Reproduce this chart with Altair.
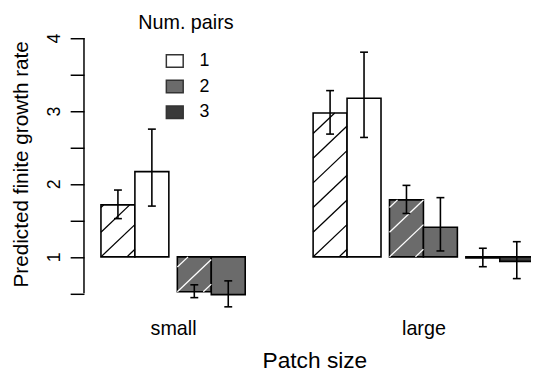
import altair as alt
import pandas as pd
import numpy as np

# ---------------- data ----------------
patch = ["small", "small", "small", "small",
         "large", "large", "large", "large", "large", "large"]
pairs = ["1", "1", "2", "2", "1", "1", "2", "2", "3", "3"]
hatched = [True, False, True, False, True, False, True, False, True, False]
growth = [1.713, 2.169, 0.522, 0.482, 2.972, 3.175, 1.781, 1.406, 0.986, 0.938]
lower = [1.524, 1.696, 0.441, 0.315, 2.683, 2.637, 1.595, 1.081, 0.865, 0.702]
upper = [1.916, 2.751, 0.617, 0.671, 3.279, 3.806, 1.980, 1.812, 1.118, 1.208]

group_labels = ["small", "large"]
pair_levels = ["1", "2", "3"]
pair_colors = ["#ffffff", "#6b6b6b", "#3a3a3a"]
hatch_colors = {"1": "black", "2": "white", "3": "white"}
y_ticks = [0.5, 1, 1.5, 2, 2.5, 3, 3.5, 4]
BASE = 1.0

# ---------------- layout constants ----------------
W, H = 453, 292
KX = 34.4                      # px per x unit (one bar)
XMIN = -0.5
XMAX = XMIN + W / KX
YMIN, YMAX = 0.25, 4.2
KY = H / (YMAX - YMIN)
PAIR_GAP, GROUP_GAP = 0.25, 2.0
CAP = 4.0                      # half-width of error-bar caps, px
SLOPE, SPACING = 0.95, 25.0    # hatch line slope (px/px) and vertical spacing (px)
FONT = "Liberation Sans"

# ---------------- derived tables ----------------
rows = []
centers = {}
start = 0.0
for g in group_labels:
    idx = [i for i, p in enumerate(patch) if p == g]
    gp = sorted(set(pairs[i] for i in idx), key=pair_levels.index)
    for i in idx:
        k = gp.index(pairs[i])
        left = start + k * (2 + PAIR_GAP) + (0 if hatched[i] else 1)
        rows.append(dict(patch=g, pair=pairs[i], hatched=hatched[i],
                         value=growth[i], lo=lower[i], hi=upper[i],
                         x0=left, x1=left + 1, xc=left + 0.5, base=BASE,
                         cl=left + 0.5 - CAP / KX, cr=left + 0.5 + CAP / KX))
    width = len(gp) * 2 + (len(gp) - 1) * PAIR_GAP
    centers[g] = start + width / 2
    start += width + GROUP_GAP
bars = pd.DataFrame(rows)

# hatch segments, clipped to each hatched bar
segs = []
for r in rows:
    if not r["hatched"]:
        continue
    yb, yt = min(BASE, r["value"]), max(BASE, r["value"])
    w = (r["x1"] - r["x0"]) * KX
    h = (yt - yb) * KY
    if h < 2:
        continue
    nmin = -int(np.ceil(SLOPE * w / SPACING))
    nmax = int(np.ceil(h / SPACING))
    for n in range(nmin, nmax + 1):
        c = n * SPACING
        da = max(0.0, -c / SLOPE)
        db = min(w, (h - c) / SLOPE)
        if db - da > 0.5:
            segs.append(dict(xa=r["x0"] + da / KX, ya=yb + (SLOPE * da + c) / KY,
                             xb=r["x0"] + db / KX, yb=yb + (SLOPE * db + c) / KY,
                             hcol=hatch_colors[r["pair"]]))
hatch = pd.DataFrame(segs)

caps = pd.concat([bars[["cl", "cr", "lo"]].rename(columns={"lo": "yv"}),
                  bars[["cl", "cr", "hi"]].rename(columns={"hi": "yv"})])

# ---------------- scales & axes ----------------
xscale = alt.Scale(domain=[XMIN, XMAX], nice=False, zero=False)
yscale = alt.Scale(domain=[YMIN, YMAX], nice=False, zero=False)

label_expr = " : ".join(
    [f"abs(datum.value - {centers[g]}) < 0.01 ? '{g}'" for g in group_labels]) + " : ''"

xaxis = alt.Axis(values=[centers[g] for g in group_labels], labelExpr=label_expr,
                 domain=False, ticks=False, grid=False,
                 labelFontSize=20, labelColor="black", labelFont=FONT,
                 labelBaseline="top", labelPadding=7,
                 title="Patch size", titleFontSize=23, titleFontWeight="normal",
                 titleColor="black", titleFont=FONT,
                 titleX=233.5, titleY=56.5, titleBaseline="alphabetic",
                 titleAlign="center")

yaxis = alt.Axis(values=y_ticks,
                 labelExpr="datum.value % 1 == 0 ? format(datum.value, 'd') : ''",
                 domain=False, grid=False, tickSize=14, tickWidth=1.5, tickColor="black",
                 labelAngle=270, labelAlign="center", labelBaseline="bottom",
                 labelPadding=7, labelFontSize=18, labelColor="black", labelFont=FONT,
                 title="Predicted finite growth rate", titleFontSize=21,
                 titleFontWeight="normal", titleColor="black", titleFont=FONT,
                 titleAngle=270, titleX=-63, titleY=142.3,
                 titleAlign="center", titleBaseline="middle")

legend = alt.Legend(orient="none", legendX=55, legendY=-10, padding=0,
                    title="Num. pairs", titleFontSize=20, titleFontWeight="normal",
                    titleColor="black", titleFont=FONT, titlePadding=19,
                    labelFontSize=18, labelColor="black", labelFont=FONT,
                    symbolType="M-1.35,-1L1.35,-1L1.35,1L-1.35,1Z", symbolSize=160,
                    symbolStrokeColor="#333333",
                    symbolStrokeWidth=1.5, symbolOpacity=1, symbolOffset=28,
                    labelOffset=16, rowPadding=6)

# ---------------- layers ----------------
bar_layer = alt.Chart(bars).mark_rect(stroke="black", strokeWidth=1.6, clip=True).encode(
    x=alt.X("x0:Q", scale=xscale, axis=xaxis),
    x2="x1:Q",
    y=alt.Y("base:Q", scale=yscale, axis=yaxis),
    y2="value:Q",
    fill=alt.Fill("pair:N", scale=alt.Scale(domain=pair_levels, range=pair_colors),
                  legend=legend),
)

hatch_layer = alt.Chart(hatch).mark_rule(strokeWidth=1.3, clip=True).encode(
    x="xa:Q", x2="xb:Q", y="ya:Q", y2="yb:Q",
    stroke=alt.Stroke("hcol:N", scale=None),
)

err_layer = alt.Chart(bars).mark_rule(color="black", strokeWidth=1.6).encode(
    x="xc:Q", y="lo:Q", y2="hi:Q")

cap_layer = alt.Chart(caps).mark_rule(color="black", strokeWidth=1.6).encode(
    x="cl:Q", x2="cr:Q", y="yv:Q")

axis_line = alt.Chart(pd.DataFrame({"a": [min(y_ticks)], "b": [max(y_ticks)]})).mark_rule(
    color="black", strokeWidth=1.5).encode(x=alt.value(0), y="a:Q", y2="b:Q")

chart = alt.layer(bar_layer, hatch_layer, err_layer, cap_layer, axis_line).properties(
    width=W, height=H,
    autosize=alt.AutoSizeParams(type="none"),
    padding={"left": 77, "top": 13.2, "right": 0, "bottom": 60},
).configure(font=FONT, background="white").configure_view(stroke=None)

chart.save("out.html", embed_options={"renderer": "svg", "actions": False})
